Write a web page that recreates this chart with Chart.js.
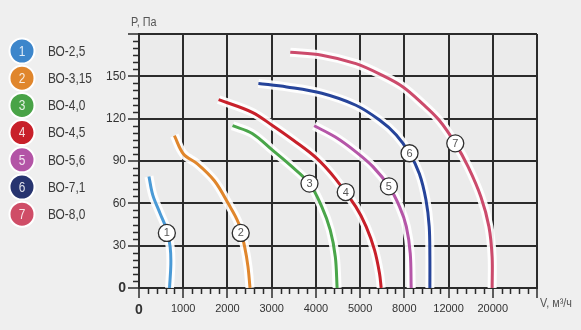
<!DOCTYPE html>
<html lang="ru">
<head>
<meta charset="utf-8">
<title>Характеристики вентиляторов ВО</title>
<script src="https://cdn.jsdelivr.net/npm/chart.js@4.4.1/dist/chart.umd.min.js"></script>
<style>
  html, body { margin: 0; padding: 0; background: #efefef; }
  #wrap { width: 581px; height: 330px; }
</style>
</head>
<body>
<div id="wrap"><canvas id="fanChart" width="581" height="330"></canvas></div>
<script>
// Axis ticks (V in m³/h is not linear along the grid)
const X_TICKS = [0, 1000, 2000, 3000, 4000, 5000, 8000, 12000, 20000];
const X_LABELS = ["0", "1000", "2000", "3000", "4000", "5000", "8000", "12000", "20000", ""];
const Y_MAX = 180;
const Y_STEP = 30;

const NAMES = ["ВО-2,5", "ВО-3,15", "ВО-4,0", "ВО-4,5", "ВО-5,6", "ВО-7,1", "ВО-8,0"];
const COLORS = ["#4a9ad6", "#e0862c", "#4aa64a", "#c8202a", "#b556a8", "#26449a", "#cc4b6c"];
const DOT_COLORS = ["#3d86cb", "#e0862c", "#49a347", "#c8202a", "#b354a6", "#27346f", "#cf4d67"];

// Curves: flow V (m³/h) and pressure P (Pa)
const v1 = [225, 310, 475, 630, 705, 720, 690];
const p1 = [79, 66, 53, 41, 29, 17, 0];
const v2 = [800, 1005, 1320, 1705, 2015, 2250, 2390, 2465, 2510];
const p2 = [108, 95, 88, 76, 60, 46, 29, 15, 0];
const v3 = [2115, 2560, 3025, 3420, 3855, 4135, 4325, 4440, 4480];
const p3 = [115, 109.5, 97.5, 87, 74, 57.5, 41, 22, 0];
const v4 = [1800, 2560, 3025, 3500, 4015, 4440, 4905, 5410, 5975, 6315, 6430];
const p4 = [133.5, 124.5, 115, 104.5, 92, 77.5, 57.5, 43.5, 27, 10.5, 0];
const v5 = [3960, 4440, 4905, 5865, 6955, 7680, 8180, 8535, 8620];
const p5 = [115, 107, 96.5, 86, 72, 57.5, 43.5, 24.5, 0];
const v6 = [2700, 3340, 4135, 4905, 6315, 7455, 8470, 9360, 9955, 10250, 10310, 10310];
const p6 = [145, 142.5, 138, 129.5, 119, 108.5, 95.5, 81, 62.5, 43.5, 22, 0];
const v7 = [3420, 4135, 4905, 6550, 7910, 9660, 11140, 13215, 15530, 17860, 19305, 19880, 19880];
const p7 = [167, 165, 159, 150.5, 142.5, 130.5, 119, 102.5, 86, 64.5, 43.5, 22, 0];

// Where the number badge sits on each curve
const BADGE_V = [630, 2300, 3855, 4675, 6955, 8470, 13215];
const BADGE_P = [39, 39, 74, 68, 72, 95.5, 102.5];

const CURVES_V = [v1, v2, v3, v4, v5, v6, v7];
const CURVES_P = [p1, p2, p3, p4, p5, p6, p7];

const NARROW = "'Liberation Sans Narrow', 'Liberation Sans', Arial, sans-serif";
const SANS = "'Liberation Sans', Arial, sans-serif";
const GRID = "#2b2b2b";

// position of a flow value on the piecewise x axis
function toAxis(v) {
  for (let i = 0; i < X_TICKS.length - 1; i++) {
    const a = X_TICKS[i], b = X_TICKS[i + 1];
    if (v <= b) return i + (v - a) / (b - a);
  }
  return X_TICKS.length - 1;
}

function points(i) {
  return CURVES_V[i].map((v, k) => ({ x: toAxis(v), y: CURVES_P[i][k] }));
}

const datasets = [];
NAMES.forEach((name, i) => {
  datasets.push({
    label: name,
    data: points(i),
    borderColor: COLORS[i],
    borderWidth: 3,
    pointRadius: 0,
    tension: 0.35,
    order: 0,
  });
});
// white halo under each curve
NAMES.forEach((name, i) => {
  datasets.push({
    label: name + " halo",
    data: points(i),
    borderColor: "rgba(255,255,255,0.92)",
    borderWidth: 9,
    pointRadius: 0,
    tension: 0.35,
    order: 1,
  });
});

const plotBg = {
  id: "plotBg",
  beforeDraw(chart) {
    const { ctx, chartArea: a } = chart;
    ctx.save();
    ctx.fillStyle = "#ebebeb";
    ctx.fillRect(a.left, a.top, a.right - a.left, a.bottom - a.top);
    ctx.restore();
  },
};

const minorTicks = {
  id: "minorTicks",
  afterDraw(chart) {
    const { ctx, scales: { x, y } } = chart;
    ctx.save();
    ctx.strokeStyle = GRID;
    ctx.lineWidth = 1.5;
    ctx.beginPath();
    for (let i = 0; i < X_LABELS.length - 1; i++) {
      for (let k = 1; k < 5; k++) {
        const px = Math.round(x.getPixelForValue(i + k / 5)) + 0.5;
        ctx.moveTo(px, y.bottom);
        ctx.lineTo(px, y.bottom + 6);
      }
    }
    for (let v = 0; v < Y_MAX; v += Y_STEP) {
      for (let k = 1; k < 6; k++) {
        const py = Math.round(y.getPixelForValue(v + k * 5)) + 0.5;
        ctx.moveTo(x.left - 6, py);
        ctx.lineTo(x.left, py);
      }
    }
    ctx.stroke();
    ctx.restore();
  },
};

const badges = {
  id: "badges",
  afterDatasetsDraw(chart) {
    const { ctx, scales: { x, y } } = chart;
    ctx.save();
    BADGE_V.forEach((v, i) => {
      const cx = x.getPixelForValue(toAxis(v));
      const cy = y.getPixelForValue(BADGE_P[i]);
      ctx.beginPath();
      ctx.arc(cx, cy, 8.5, 0, Math.PI * 2);
      ctx.fillStyle = "#ffffff";
      ctx.fill();
      ctx.lineWidth = 1.3;
      ctx.strokeStyle = "#2e2e2e";
      ctx.stroke();
      ctx.fillStyle = "#555";
      ctx.font = "11px " + NARROW;
      ctx.textAlign = "center";
      ctx.textBaseline = "middle";
      ctx.fillText(String(i + 1), cx, cy + 0.5);
    });
    ctx.restore();
  },
};

// condensed text: squeeze horizontally around the anchor point
function narrowText(ctx, text, x, y, squeeze) {
  ctx.save();
  ctx.translate(x, y);
  ctx.scale(squeeze, 1);
  ctx.fillText(text, 0, 0);
  ctx.restore();
}

const sideLegend = {
  id: "sideLegend",
  afterDraw(chart) {
    const ctx = chart.ctx;
    ctx.save();
    NAMES.forEach((name, i) => {
      const cy = 51 + i * 27.2;
      ctx.beginPath();
      ctx.arc(22, cy, 12.5, 0, Math.PI * 2);
      ctx.fillStyle = DOT_COLORS[i];
      ctx.fill();
      ctx.lineWidth = 2;
      ctx.strokeStyle = "#ffffff";
      ctx.stroke();
      ctx.textBaseline = "middle";
      ctx.textAlign = "center";
      ctx.fillStyle = "rgba(255,255,255,0.85)";
      ctx.font = "14px " + NARROW;
      narrowText(ctx, String(i + 1), 22, cy + 1, 0.85);
      ctx.textAlign = "left";
      ctx.fillStyle = "#3a3a3a";
      narrowText(ctx, name, 48, cy + 1, 0.85);
    });
    // axis titles
    ctx.fillStyle = "#555";
    ctx.font = "12px " + NARROW;
    ctx.textAlign = "left";
    narrowText(ctx, "P, Па", 131, 23, 0.9);
    narrowText(ctx, "V, м³/ч", 540, 304, 0.9);
    ctx.restore();
  },
};

new Chart(document.getElementById("fanChart"), {
  type: "line",
  data: { datasets },
  options: {
    responsive: false,
    animation: false,
    devicePixelRatio: 1,
    layout: { padding: { top: 34, right: 44, left: 0, bottom: 0 } },
    plugins: { legend: { display: false }, tooltip: { enabled: false } },
    scales: {
      x: {
        type: "linear",
        min: 0,
        max: X_LABELS.length - 1,
        afterBuildTicks: (scale) => {
          scale.ticks = X_LABELS.map((_, i) => ({ value: i }));
        },
        afterFit: (scale) => { scale.height = 42; },
        ticks: {
          autoSkip: false,
          maxRotation: 0,
          padding: 4,
          color: "#333",
          callback: (value) => X_LABELS[value],
          font: (c) => c.tick && c.tick.value === 0
            ? { family: SANS, size: 14, weight: "bold" }
            : { family: SANS, size: 11 },
        },
        grid: { color: GRID, lineWidth: 2, tickLength: 10, tickColor: GRID, tickWidth: 1.5 },
        border: { color: GRID, width: 2 },
      },
      y: {
        min: 0,
        max: Y_MAX,
        afterFit: (scale) => { scale.width = 139; },
        ticks: {
          stepSize: Y_STEP,
          padding: 2,
          color: "#333",
          callback: (value) => (value === Y_MAX ? "" : value),
          font: (c) => c.tick && c.tick.value === 0
            ? { family: SANS, size: 14, weight: "bold" }
            : { family: SANS, size: 12 },
        },
        grid: { color: GRID, lineWidth: 2, tickLength: 11, tickColor: GRID, tickWidth: 1.5 },
        border: { color: GRID, width: 2 },
      },
    },
  },
  plugins: [plotBg, minorTicks, badges, sideLegend],
});
</script>
</body>
</html>
